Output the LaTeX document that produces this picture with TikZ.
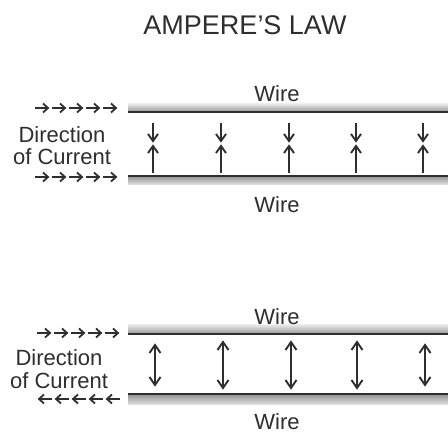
\documentclass[tikz,border=0pt]{standalone}
\usepackage{fontspec}
\setmainfont{Liberation Sans}
\definecolor{ink}{HTML}{2E2E2E}
\begin{document}
\begin{tikzpicture}[x=1pt,y=-1pt,
  lbl/.style={font=\fontsize{22}{22}\selectfont, text=ink, inner sep=0pt, anchor=base},
  ttl/.style={font=\fontsize{27}{27}\selectfont, text=ink, inner sep=0pt, anchor=base},
  vln/.style={draw=ink, line width=1.9pt, line join=miter},
  hln/.style={draw=ink, line width=1.8pt, line join=miter}
]
\useasboundingbox (0,0) rectangle (448,435);
\fill[white] (0,0) rectangle (448,435);

% title
\node[ttl] (title) at (245,35) {AMPERE’S LAW};

% ---------- panel 1 ----------
\shade[top color=gray!20, bottom color=gray!75] (128,104) rectangle (448,111);
\fill[ink] (128,111) rectangle (448,113);
\fill[ink] (128,175.5) rectangle (448,177.5);
\shade[top color=gray!75, bottom color=gray!20] (128,177.5) rectangle (448,185);

\node[lbl] (w1t) at (277,102) {Wire};
\node[lbl] (w1b) at (277,213) {Wire};
\node[lbl] (d1a) at (62,143) {Direction};
\node[lbl] (d1b) at (62,165) {of Current};

\foreach \i in {0,...,4} {
  \foreach \yy in {108,177} {
    \draw[hln] (35+17*\i,\yy) -- ++(13,0);
    \draw[hln] (35+17*\i+8,\yy-4.5) -- (35+17*\i+13,\yy) -- (35+17*\i+8,\yy+4.5);
  }
}
\foreach \x in {153,221,289,356,423} {
  \draw[vln] (\x,123) -- (\x,141);
  \draw[vln] (\x-5,134) -- (\x,141) -- (\x+5,134);
  \draw[vln] (\x,173) -- (\x,146);
  \draw[vln] (\x-5,153) -- (\x,146) -- (\x+5,153);
}

% ---------- panel 2 ----------
\shade[top color=gray!20, bottom color=gray!75] (128,325) rectangle (448,333);
\fill[ink] (128,333) rectangle (448,335.5);
\fill[ink] (128,393.5) rectangle (448,396);
\shade[top color=gray!75, bottom color=gray!20] (128,396) rectangle (448,405);

\node[lbl] (w2t) at (277,325) {Wire};
\node[lbl] (w2b) at (277,430) {Wire};
\node[lbl] (d2a) at (59,366) {Direction};
\node[lbl] (d2b) at (59,389) {of Current};

\foreach \i in {0,...,4} {
  \draw[hln] (37+17*\i,333) -- ++(13,0);
  \draw[hln] (37+17*\i+8,333-4.5) -- (37+17*\i+13,333) -- (37+17*\i+8,333+4.5);
  \draw[hln] (120-17*\i,399) -- ++(-13,0);
  \draw[hln] (120-17*\i-8,399-4.5) -- (120-17*\i-13,399) -- (120-17*\i-8,399+4.5);
}
\foreach \x/\ya/\yb in {155/345/385, 223/342/388, 291/342/388, 357/342/388, 425/345/385} {
  \draw[vln] (\x,\ya) -- (\x,\yb);
  \draw[vln] (\x-5.5,\ya+8) -- (\x,\ya) -- (\x+5.5,\ya+8);
  \draw[vln] (\x-5.5,\yb-8) -- (\x,\yb) -- (\x+5.5,\yb-8);
}
\end{tikzpicture}
\end{document}
